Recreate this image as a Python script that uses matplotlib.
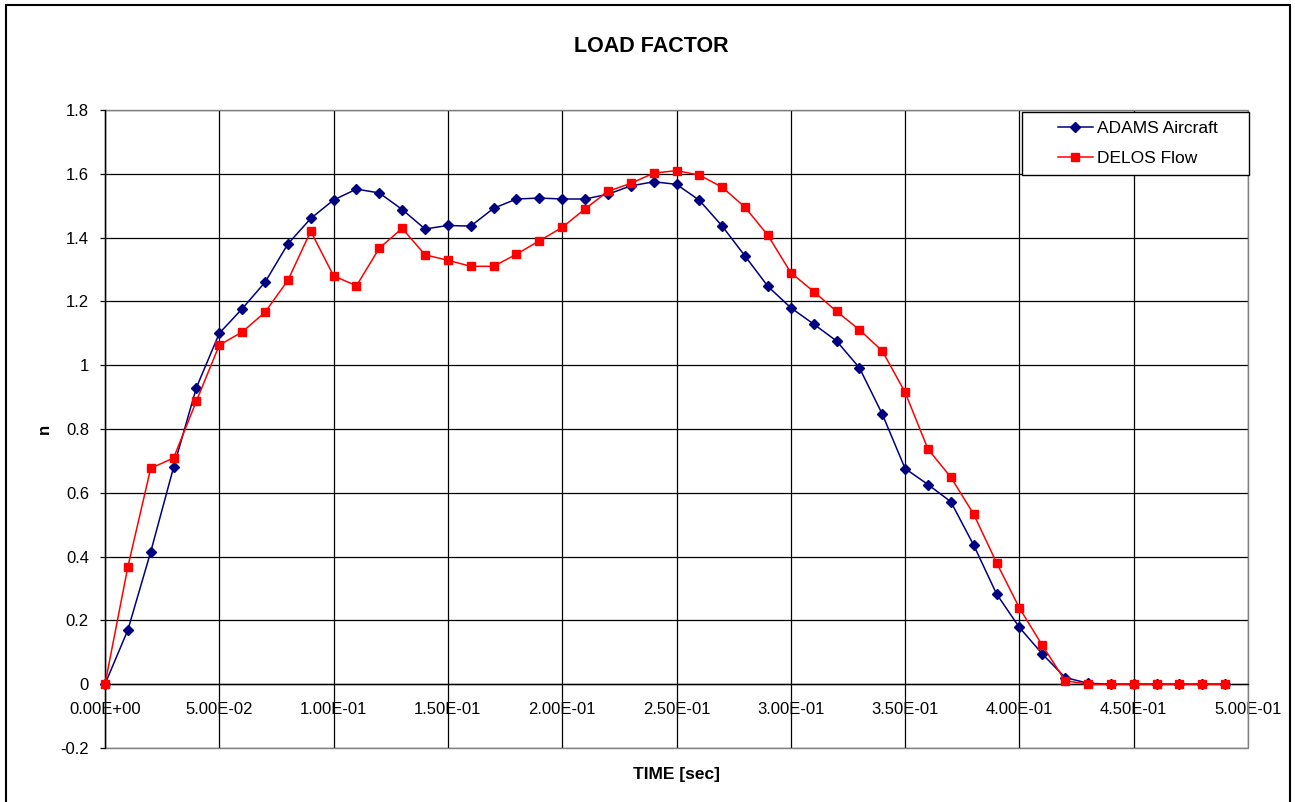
import matplotlib
matplotlib.use("Agg")
import matplotlib.pyplot as plt
from matplotlib.patches import Rectangle

plt.rcParams['font.family'] = ['Liberation Sans', 'DejaVu Sans']

# sample times [s]
time_s = [0.00, 0.01, 0.02, 0.03, 0.04, 0.05, 0.06, 0.07, 0.08, 0.09,
          0.10, 0.11, 0.12, 0.13, 0.14, 0.15, 0.16, 0.17, 0.18, 0.19,
          0.20, 0.21, 0.22, 0.23, 0.24, 0.25, 0.26, 0.27, 0.28, 0.29,
          0.30, 0.31, 0.32, 0.33, 0.34, 0.35, 0.36, 0.37, 0.38, 0.39,
          0.40, 0.41, 0.42, 0.43, 0.44, 0.45, 0.46, 0.47, 0.48, 0.49]

# load factor n, multibody model
adams_n = [0.000, 0.170, 0.415, 0.680, 0.930, 1.100, 1.177, 1.260, 1.380, 1.460,
           1.518, 1.552, 1.540, 1.488, 1.427, 1.438, 1.436, 1.492, 1.521, 1.524,
           1.521, 1.521, 1.536, 1.562, 1.575, 1.567, 1.517, 1.436, 1.342, 1.247,
           1.180, 1.129, 1.076, 0.992, 0.847, 0.676, 0.626, 0.572, 0.436, 0.283,
           0.178, 0.095, 0.021, 0.003, 0.000, 0.000, 0.000, 0.000, 0.000, 0.000]

# load factor n, flow solver
delos_n = [0.000, 0.368, 0.677, 0.709, 0.888, 1.063, 1.104, 1.166, 1.266, 1.420,
           1.280, 1.249, 1.367, 1.429, 1.346, 1.329, 1.310, 1.310, 1.348, 1.390,
           1.432, 1.490, 1.545, 1.570, 1.602, 1.610, 1.596, 1.558, 1.495, 1.407,
           1.290, 1.231, 1.169, 1.111, 1.045, 0.915, 0.737, 0.649, 0.533, 0.381,
           0.239, 0.122, 0.011, 0.000, 0.000, 0.000, 0.000, 0.000, 0.000, 0.000]

x_ticks = [0.0, 0.05, 0.10, 0.15, 0.20, 0.25, 0.30, 0.35, 0.40, 0.45, 0.50]
x_labels = ["0.00E+00", "5.00E-02", "1.00E-01", "1.50E-01", "2.00E-01", "2.50E-01",
            "3.00E-01", "3.50E-01", "4.00E-01", "4.50E-01", "5.00E-01"]
y_ticks = [-0.2, 0.0, 0.2, 0.4, 0.6, 0.8, 1.0, 1.2, 1.4, 1.6, 1.8]
y_labels = ["-0.2", "0", "0.2", "0.4", "0.6", "0.8", "1", "1.2", "1.4", "1.6", "1.8"]

W, H = 1295, 802
fig = plt.figure(figsize=(W / 100, H / 100), dpi=100)
fig.patch.set_facecolor('white')

def fx(px):
    return px / W

def fy(py):
    return 1 - py / H

ax = fig.add_axes([fx(105), fy(748), fx(1248) - fx(105), fy(110) - fy(748)])

l1, = ax.plot(time_s, adams_n, color='#000080', lw=1.1, marker='D', ms=4.6,
              label='ADAMS Aircraft', zorder=3, clip_on=False)
l2, = ax.plot(time_s, delos_n, color='#FF0000', lw=1.1, marker='s', ms=6,
              label='DELOS Flow', zorder=4, clip_on=False)

ax.set_xlim(0, 0.5)
ax.set_ylim(-0.2, 1.8)
ax.set_xticks(x_ticks)
ax.set_xticklabels(x_labels)
ax.set_yticks(y_ticks)
ax.set_yticklabels(y_labels)
ax.grid(True, color='black', lw=0.9)
ax.set_axisbelow(True)

# x axis crosses at n = 0
ax.spines['bottom'].set_position(('data', 0))
ax.spines['bottom'].set_color('black')
ax.spines['left'].set_color('black')
ax.spines['top'].set_visible(False)
ax.spines['right'].set_visible(False)
for s in ('bottom', 'left'):
    ax.spines[s].set_linewidth(1.0)
    ax.spines[s].set_zorder(2.6)

# gray plot-area frame
ax.add_patch(Rectangle((0, 0), 1, 1, transform=ax.transAxes, fill=False,
                       edgecolor='#808080', lw=1.0, zorder=2.5, clip_on=False))

ax.tick_params(axis='x', length=0, pad=13, labelsize=12, colors='black')
ax.tick_params(axis='y', length=3.6, width=0.9, pad=8, labelsize=12, colors='black')

fig.text(fx(651), fy(47), "LOAD FACTOR", ha='center', va='center',
         fontsize=15.5, fontweight='bold')
fig.text(fx(676), fy(775), "TIME [sec]", ha='center', va='center',
         fontsize=12.5, fontweight='bold')
fig.text(fx(44.5), fy(429), "n", ha='center', va='center', rotation=90,
         fontsize=12, fontweight='bold')

# legend box
fig.patches.append(Rectangle((fx(1022), fy(175)), fx(1249) - fx(1022), fy(112) - fy(175),
                             transform=fig.transFigure, facecolor='white',
                             edgecolor='black', lw=1.0, zorder=5))
leg = fig.legend(handles=[l1, l2], loc='upper left',
                 bbox_to_anchor=(fx(1058), fy(121)), frameon=False,
                 borderpad=0, borderaxespad=0, handlelength=2.0,
                 handletextpad=0.25, labelspacing=0.83, fontsize=12.5)
leg.set_zorder(6)

# outer chart border
fig.patches.append(Rectangle((fx(6), fy(H + 10)), fx(1290) - fx(6), fy(5) - fy(H + 10),
                             transform=fig.transFigure, fill=False,
                             edgecolor='black', lw=1.5, zorder=0))

fig.savefig("out.png", dpi=100)
